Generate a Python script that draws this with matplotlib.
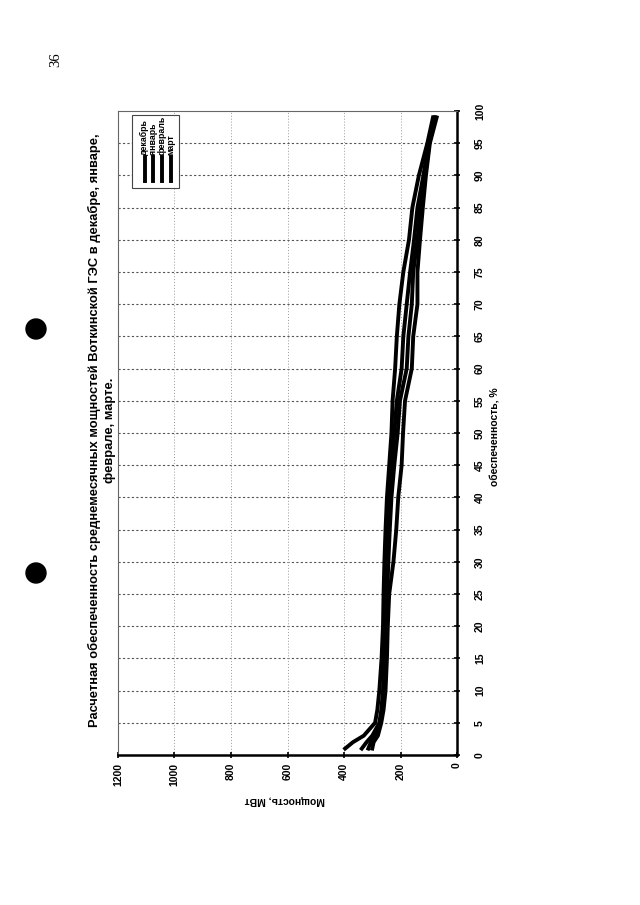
import matplotlib
matplotlib.use("Agg")
import matplotlib.pyplot as plt
from matplotlib.patches import Ellipse

plt.rcParams['font.family'] = ['Liberation Sans', 'DejaVu Sans']

# обеспеченность, %
pct = [1, 2, 3, 5, 7, 10, 15, 20, 25, 30, 35, 40, 45, 50, 55, 60, 65, 70, 75, 80, 85, 90, 95, 99]

# мощность, МВт
dec = [396, 368, 330, 290, 282, 275, 267, 262, 260, 257, 253, 248, 240, 232, 228, 219, 213, 204, 190, 170, 158, 135, 105, 85]
jan = [337, 320, 300, 275, 268, 262, 258, 255, 252, 250, 246, 240, 232, 222, 213, 196, 190, 178, 166, 152, 140, 119, 100, 80]
feb = [314, 305, 290, 272, 265, 258, 254, 250, 247, 243, 238, 232, 222, 210, 202, 178, 172, 160, 155, 140, 129, 113, 98, 76]
mar = [300, 295, 280, 268, 260, 253, 248, 245, 240, 225, 215, 208, 196, 191, 184, 160, 155, 140, 140, 131, 121, 110, 96, 72]

series = [dec, jan, feb, mar]
names = ["декабрь", "январь", "февраль", "март"]

W, H = 640, 905
fig = plt.figure(figsize=(6.4, 9.05), dpi=100)

# chart is printed rotated on the page: power runs right->left, percent bottom->top
left, right, top, bottom = 118, 457, 111, 755
ax = fig.add_axes([left / W, (H - bottom) / H, (right - left) / W, (bottom - top) / H])

for s in series:
    ax.plot(s, pct, color="black", lw=2.8, solid_joinstyle="round")

ax.set_xlim(1200, 0)
ax.set_ylim(0, 100)
ax.set_xticks(range(0, 1201, 200))
ax.set_yticks(range(0, 101, 5))
ax.yaxis.tick_right()

for g in range(5, 100, 5):
    ax.axhline(g, color="#555555", lw=0.8, ls=(0, (2, 2)), zorder=0)
for g in range(200, 1200, 200):
    ax.axvline(g, color="#999999", lw=0.7, ls=(0, (1, 2)), zorder=0)

for sp in ["left", "top"]:
    ax.spines[sp].set_color("#666666")
    ax.spines[sp].set_linewidth(0.8)
for sp in ["right", "bottom"]:
    ax.spines[sp].set_color("black")
    ax.spines[sp].set_linewidth(1.8)

ax.tick_params(axis="x", direction="inout", length=5, width=1.2, pad=3,
               labelsize=7.5, labelrotation=90)
ax.tick_params(axis="y", direction="inout", length=5, width=1.2, pad=14,
               labelsize=7.5, labelrotation=90)
for lab in ax.get_xticklabels() + ax.get_yticklabels():
    lab.set_fontweight("bold")
for lab in ax.get_yticklabels():
    lab.set_va("center")
    lab.set_ha("center")
for lab in ax.get_xticklabels():
    lab.set_va("top")
    lab.set_ha("center")

# axis titles
fig.text(285 / W, 1 - 800 / H, "Мощность, МВт", rotation=180, ha="center", va="center",
         fontsize=7.5, fontweight="bold")
fig.text(495 / W, 1 - 437 / H, "обеспеченность, %", rotation=90, ha="center", va="center",
         fontsize=7.5, fontweight="bold")

# title
fig.text(102 / W, 1 - 430 / H,
         "Расчетная обеспеченность среднемесячных мощностей Воткинской ГЭС в декабре, январе,\n"
         "феврале, марте.",
         rotation=90, ha="center", va="center", multialignment="center",
         fontsize=9.3, fontweight="bold", linespacing=1.25)

# legend, drawn by hand because it is rotated too
ax.add_patch(plt.Rectangle((1150, 88.0), -165, 11.4, fill=True, facecolor="white",
                           edgecolor="#444444", lw=0.8, zorder=3))
for i, nm in enumerate(names):
    xc = 1106 - i * 31
    ax.plot([xc, xc], [89.2, 92.8], color="black", lw=2.8, zorder=4)
    ax.text(xc, 93.1, nm, rotation=90, ha="center", va="bottom", fontsize=6.3,
            fontweight="bold", zorder=4)

# page number and punch holes of the scan
fig.text(56 / W, 1 - 60 / H, "36", rotation=90, ha="center", va="center",
         fontsize=10.5, family="Liberation Serif")
for cy in [329, 573]:
    fig.patches.append(Ellipse((36 / W, 1 - cy / H), 20 / W, 20 / H,
                               transform=fig.transFigure, color="black"))

fig.savefig("out.png", dpi=100)
